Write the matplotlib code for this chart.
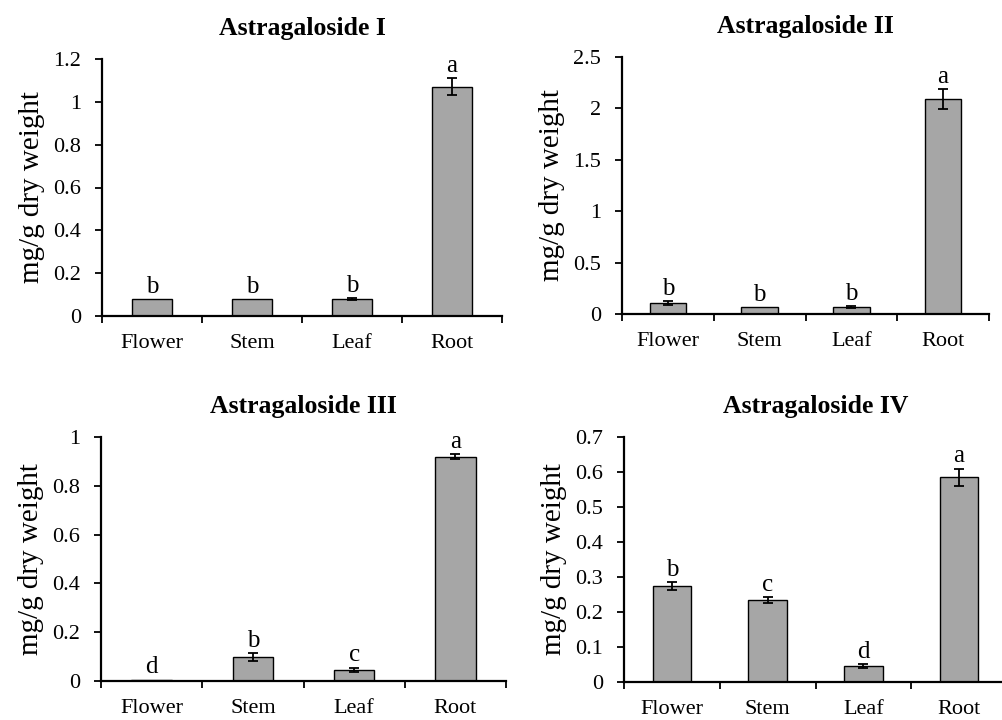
import matplotlib
matplotlib.use("Agg")
import matplotlib.pyplot as plt
from matplotlib.ticker import FuncFormatter

plt.rcParams['font.family'] = ['Liberation Serif', 'DejaVu Serif']

categories = ["Flower", "Stem", "Leaf", "Root"]

titles = ["Astragaloside I", "Astragaloside II", "Astragaloside III", "Astragaloside IV"]

values_I = [0.08, 0.08, 0.08, 1.07]
errors_I = [0.0, 0.0, 0.004, 0.04]
letters_I = ["b", "b", "b", "a"]

values_II = [0.105, 0.07, 0.07, 2.09]
errors_II = [0.02, 0.0, 0.01, 0.1]
letters_II = ["b", "b", "b", "a"]

values_III = [0.006, 0.098, 0.045, 0.92]
errors_III = [0.0, 0.016, 0.01, 0.01]
letters_III = ["d", "b", "c", "a"]

values_IV = [0.274, 0.234, 0.046, 0.585]
errors_IV = [0.012, 0.008, 0.006, 0.025]
letters_IV = ["b", "c", "d", "a"]

yticks_I = [0, 0.2, 0.4, 0.6, 0.8, 1.0, 1.2]
yticks_II = [0, 0.5, 1.0, 1.5, 2.0, 2.5]
yticks_III = [0, 0.2, 0.4, 0.6, 0.8, 1.0]
yticks_IV = [0, 0.1, 0.2, 0.3, 0.4, 0.5, 0.6, 0.7]

W, H = 1002, 720
fig = plt.figure(figsize=(W / 100, H / 100), dpi=100)

# axes boxes in pixels: left, right, top, bottom
boxes = [
    (102, 502, 59, 316),
    (622, 989, 57, 314),
    (101, 506, 437, 681),
    (624, 1007, 437, 682),
]

panels = [
    (values_I, errors_I, letters_I, yticks_I),
    (values_II, errors_II, letters_II, yticks_II),
    (values_III, errors_III, letters_III, yticks_III),
    (values_IV, errors_IV, letters_IV, yticks_IV),
]

fmt = FuncFormatter(lambda v, p: f"{v:g}")

for (l, r, t, b), title, (vals, errs, lets, yt) in zip(boxes, titles, panels):
    ax = fig.add_axes([l / W, 1 - b / H, (r - l) / W, (b - t) / H])
    x = list(range(len(categories)))
    ax.bar(x, vals, width=0.4, color="#A6A6A6", edgecolor="black", linewidth=1.0, zorder=2)
    ex = [xi for xi, e in zip(x, errs) if e > 0]
    ev = [v for v, e in zip(vals, errs) if e > 0]
    ee = [e for e in errs if e > 0]
    ax.errorbar(ex, ev, yerr=ee, fmt="none", ecolor="black", elinewidth=1.3,
                capsize=3.5, capthick=1.3, zorder=3)
    for xi, v, e, s in zip(x, vals, errs, lets):
        ax.annotate(s, (xi, v + e), xytext=(0, 4.5), textcoords="offset points",
                    ha="center", va="baseline", fontsize=18)
    ax.set_xlim(-0.5, len(categories) - 0.5)
    ax.set_ylim(yt[0], yt[-1])
    ax.set_yticks(yt)
    ax.yaxis.set_major_formatter(fmt)
    ax.set_xticks([i - 0.5 for i in range(len(categories) + 1)])
    ax.set_xticklabels([])
    ax.set_xticks(x, minor=True)
    ax.set_xticklabels(categories, minor=True)
    ax.tick_params(axis="x", which="major", direction="out", length=5, width=1.3)
    ax.tick_params(axis="x", which="minor", length=0, pad=13, labelsize=16)
    ax.tick_params(axis="y", direction="out", length=5, width=1.3, pad=10, labelsize=16)
    for side in ("top", "right"):
        ax.spines[side].set_visible(False)
    for side in ("left", "bottom"):
        ax.spines[side].set_linewidth(1.6)
    ax.set_title(title, fontsize=18.5, fontweight="bold", pad=17)
    ax.set_ylabel("mg/g dry weight", fontsize=21)
    ax.yaxis.set_label_coords(-57 / (r - l), 0.5)

fig.savefig("out.png", dpi=100)
